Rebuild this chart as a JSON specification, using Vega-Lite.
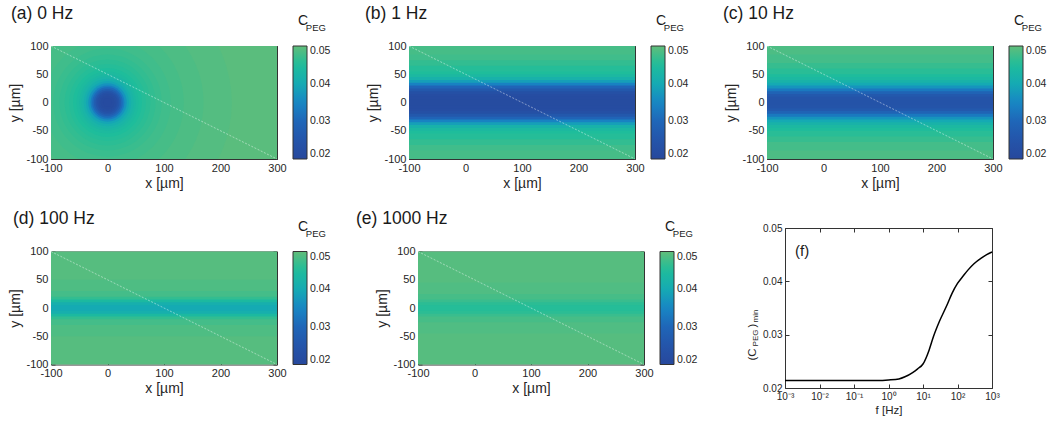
{
 "$schema": "https://vega.github.io/schema/vega-lite/v6.json",
 "padding": {"left": 8, "top": 4, "right": 0, "bottom": 0},
 "background": "white",
 "config": {
  "font": "Liberation Sans",
  "view": {"stroke": null},
  "title": {"anchor": "start", "frame": "group", "fontSize": 17.5, "fontWeight": "normal", "color": "#1a1a1a", "offset": -8},
  "axis": {"labelFontSize": 11, "labelColor": "#262626", "titleFontSize": 14, "titleFontWeight": "normal", "titleColor": "#262626", "domainColor": "#333333", "tickColor": "#333333", "tickSize": -4, "labelPadding": 7, "grid": false, "zindex": 1, "labelFlush": false, "labelOverlap": false, "titlePadding": 3, "labelExpr": "replace(datum.label, '−', '-')"},
  "legend": {"labelFontSize": 10.5, "labelColor": "#262626"}
 },
 "datasets": {
  "p0": [{"r":220,"c":0.049},{"r":170,"c":0.0485},{"r":135,"c":0.048},{"r":112,"c":0.0475},{"r":96,"c":0.047},{"r":85,"c":0.0465},{"r":76,"c":0.046},{"r":68,"c":0.0455},{"r":61,"c":0.045},{"r":55,"c":0.0443},{"r":50,"c":0.0435},{"r":46,"c":0.0425},{"r":42,"c":0.0412},{"r":38,"c":0.0395},{"r":34,"c":0.0368},{"r":30,"c":0.0335},{"r":27,"c":0.0305},{"r":24,"c":0.0275},{"r":21,"c":0.025},{"r":18,"c":0.0232},{"r":15,"c":0.0222},{"r":12,"c":0.0216},{"r":8,"c":0.0213}],
  "p1": [{"lo":-100,"hi":100,"c":0.048},{"lo":-85,"hi":85,"c":0.0475},{"lo":-75,"hi":75,"c":0.0465},{"lo":-65,"hi":65,"c":0.0455},{"lo":-55,"hi":55,"c":0.045},{"lo":-50,"hi":50,"c":0.0438},{"lo":-45,"hi":45,"c":0.0418},{"lo":-40,"hi":40,"c":0.0385},{"lo":-35,"hi":35,"c":0.0343},{"lo":-30,"hi":30,"c":0.0295},{"lo":-25,"hi":25,"c":0.0258},{"lo":-20,"hi":20,"c":0.0232},{"lo":-15,"hi":15,"c":0.0221},{"lo":-10,"hi":10,"c":0.0217},{"lo":-5,"hi":5,"c":0.0215}],
  "p10": [{"lo":-100,"hi":100,"c":0.0485},{"lo":-85,"hi":85,"c":0.0478},{"lo":-70,"hi":70,"c":0.0468},{"lo":-60,"hi":60,"c":0.0458},{"lo":-50,"hi":50,"c":0.0448},{"lo":-45,"hi":45,"c":0.0438},{"lo":-40,"hi":40,"c":0.0422},{"lo":-35,"hi":35,"c":0.04},{"lo":-30,"hi":30,"c":0.037},{"lo":-25,"hi":25,"c":0.033},{"lo":-20,"hi":20,"c":0.029},{"lo":-15,"hi":15,"c":0.0262},{"lo":-10,"hi":10,"c":0.0248},{"lo":-5,"hi":5,"c":0.0243}],
  "p100": [{"lo":-100,"hi":100,"c":0.0492},{"lo":-50,"hi":50,"c":0.0486},{"lo":-30,"hi":30,"c":0.0478},{"lo":-20,"hi":20,"c":0.0465},{"lo":-15,"hi":15,"c":0.044},{"lo":-10,"hi":10,"c":0.0412},{"lo":-5,"hi":5,"c":0.04}],
  "p1000": [{"lo":-100,"hi":100,"c":0.0492},{"lo":-45,"hi":45,"c":0.0487},{"lo":-25,"hi":25,"c":0.048},{"lo":-15,"hi":15,"c":0.047},{"lo":-10,"hi":10,"c":0.046},{"lo":-5,"hi":5,"c":0.0455}],
  "pf": [{"f":0.001,"c":0.0214},{"f":0.01,"c":0.0214},{"f":0.1,"c":0.0214},{"f":0.5,"c":0.0214},{"f":1,"c":0.0215},{"f":2,"c":0.0217},{"f":3,"c":0.0221},{"f":5,"c":0.0229},{"f":7,"c":0.0236},{"f":10,"c":0.0245},{"f":15,"c":0.0271},{"f":20,"c":0.0296},{"f":30,"c":0.0325},{"f":50,"c":0.0356},{"f":70,"c":0.0378},{"f":100,"c":0.0396},{"f":150,"c":0.0411},{"f":200,"c":0.0421},{"f":300,"c":0.0433},{"f":500,"c":0.0444},{"f":700,"c":0.045},{"f":1000,"c":0.0455}]
 },
 "spacing": 20,
 "resolve": {"scale": {"color": "independent"}, "legend": {"color": "independent"}},
 "vconcat": [
  {
   "hconcat": [
    {
     "title": {"text": "(a) 0 Hz", "dx": -40},
     "width": 226, "height": 113,
     "layer": [
      {"data": {"values": [{"c": 0.0495}]},
       "mark": {"type": "rect"},
       "encoding": {
        "x": {"datum": -100, "type": "quantitative", "scale": {"domain": [-100, 300], "nice": false, "zero": false}, "axis": {"orient": "bottom", "title": "x [µm]", "values": [-100, 0, 100, 200, 300]}},
        "x2": {"datum": 300},
        "y": {"datum": -100, "type": "quantitative", "scale": {"domain": [-100, 100], "nice": false, "zero": false}, "axis": {"orient": "left", "title": "y [µm]", "values": [-100, -50, 0, 50, 100]}},
        "y2": {"datum": 100},
        "color": {"field": "c", "type": "quantitative", "scale": {"domain": [0.02, 0.025, 0.03, 0.035, 0.04, 0.045, 0.05], "range": ["#27489c", "#2455aa", "#1f66b8", "#1786c4", "#15aab3", "#1ebd9b", "#61bd7a"], "interpolate": "rgb", "clamp": true}, "legend": {"orient": "none", "legendX": 242, "legendY": 0, "title": null, "direction": "vertical", "gradientLength": 113, "gradientThickness": 14, "values": [0.02, 0.03, 0.04, 0.05], "format": ".2f", "gradientStrokeColor": "#333333", "gradientStrokeWidth": 1, "labelOffset": 3}}
       }},
      {"data": {"name": "p0"},
       "mark": {"type": "point", "shape": "circle", "filled": true, "opacity": 1, "strokeWidth": 0, "clip": true},
       "encoding": {
        "x": {"datum": 0, "type": "quantitative", "axis": null},
        "y": {"datum": 0, "type": "quantitative", "axis": null},
        "size": {"field": "r", "type": "quantitative", "scale": {"type": "pow", "exponent": 2, "domain": [0, 200], "range": [0, 51076]}, "legend": null},
        "color": {"field": "c", "type": "quantitative"}
       }},
      {"data": {"values": [{}]},
       "mark": {"type": "rule", "color": "#ffffff", "strokeWidth": 0.8, "opacity": 0.55, "strokeDash": [2, 1.5]},
       "encoding": {
        "x": {"datum": -100, "type": "quantitative", "axis": {"orient": "top", "labels": false, "title": null, "values": [-100, 0, 100, 200, 300]}},
        "x2": {"datum": 300},
        "y": {"datum": 100, "type": "quantitative", "axis": {"orient": "right", "labels": false, "title": null, "values": [-100, -50, 0, 50, 100]}},
        "y2": {"datum": -100}
       }},
      {"data": {"values": [{}]},
       "mark": {"type": "text", "text": "C", "align": "left", "baseline": "alphabetic", "fontSize": 14, "color": "#1a1a1a"},
       "encoding": {"x": {"datum": 337, "type": "quantitative", "axis": null}, "y": {"datum": 137, "type": "quantitative", "axis": null}}},
      {"data": {"values": [{}]},
       "mark": {"type": "text", "text": "PEG", "align": "left", "baseline": "alphabetic", "fontSize": 9.5, "color": "#1a1a1a"},
       "encoding": {"x": {"datum": 351, "type": "quantitative", "axis": null}, "y": {"datum": 126, "type": "quantitative", "axis": null}}}
     ],
     "resolve": {"axis": {"x": "independent", "y": "independent"}}
    },
    {
     "title": {"text": "(b) 1 Hz", "dx": -44},
     "width": 226, "height": 113,
     "layer": [
      {"data": {"name": "p1"},
       "mark": {"type": "rect"},
       "encoding": {
        "x": {"datum": -100, "type": "quantitative", "scale": {"domain": [-100, 300], "nice": false, "zero": false}, "axis": {"orient": "bottom", "title": "x [µm]", "values": [-100, 0, 100, 200, 300]}},
        "x2": {"datum": 300},
        "y": {"field": "lo", "type": "quantitative", "scale": {"domain": [-100, 100], "nice": false, "zero": false}, "axis": {"orient": "left", "title": "y [µm]", "values": [-100, -50, 0, 50, 100]}},
        "y2": {"field": "hi"},
        "color": {"field": "c", "type": "quantitative", "scale": {"domain": [0.02, 0.025, 0.03, 0.035, 0.04, 0.045, 0.05], "range": ["#27489c", "#2455aa", "#1f66b8", "#1786c4", "#15aab3", "#1ebd9b", "#61bd7a"], "interpolate": "rgb", "clamp": true}, "legend": {"orient": "none", "legendX": 242, "legendY": 0, "title": null, "direction": "vertical", "gradientLength": 113, "gradientThickness": 14, "values": [0.02, 0.03, 0.04, 0.05], "format": ".2f", "gradientStrokeColor": "#333333", "gradientStrokeWidth": 1, "labelOffset": 3}}
       }},
      {"data": {"values": [{}]},
       "mark": {"type": "rule", "color": "#ffffff", "strokeWidth": 0.8, "opacity": 0.55, "strokeDash": [2, 1.5]},
       "encoding": {
        "x": {"datum": -100, "type": "quantitative", "axis": {"orient": "top", "labels": false, "title": null, "values": [-100, 0, 100, 200, 300]}},
        "x2": {"datum": 300},
        "y": {"datum": 100, "type": "quantitative", "axis": {"orient": "right", "labels": false, "title": null, "values": [-100, -50, 0, 50, 100]}},
        "y2": {"datum": -100}
       }},
      {"data": {"values": [{}]},
       "mark": {"type": "text", "text": "C", "align": "left", "baseline": "alphabetic", "fontSize": 14, "color": "#1a1a1a"},
       "encoding": {"x": {"datum": 337, "type": "quantitative", "axis": null}, "y": {"datum": 137, "type": "quantitative", "axis": null}}},
      {"data": {"values": [{}]},
       "mark": {"type": "text", "text": "PEG", "align": "left", "baseline": "alphabetic", "fontSize": 9.5, "color": "#1a1a1a"},
       "encoding": {"x": {"datum": 351, "type": "quantitative", "axis": null}, "y": {"datum": 126, "type": "quantitative", "axis": null}}}
     ],
     "resolve": {"axis": {"x": "independent", "y": "independent"}}
    },
    {
     "title": {"text": "(c) 10 Hz", "dx": -44},
     "width": 226, "height": 113,
     "layer": [
      {"data": {"name": "p10"},
       "mark": {"type": "rect"},
       "encoding": {
        "x": {"datum": -100, "type": "quantitative", "scale": {"domain": [-100, 300], "nice": false, "zero": false}, "axis": {"orient": "bottom", "title": "x [µm]", "values": [-100, 0, 100, 200, 300]}},
        "x2": {"datum": 300},
        "y": {"field": "lo", "type": "quantitative", "scale": {"domain": [-100, 100], "nice": false, "zero": false}, "axis": {"orient": "left", "title": "y [µm]", "values": [-100, -50, 0, 50, 100]}},
        "y2": {"field": "hi"},
        "color": {"field": "c", "type": "quantitative", "scale": {"domain": [0.02, 0.025, 0.03, 0.035, 0.04, 0.045, 0.05], "range": ["#27489c", "#2455aa", "#1f66b8", "#1786c4", "#15aab3", "#1ebd9b", "#61bd7a"], "interpolate": "rgb", "clamp": true}, "legend": {"orient": "none", "legendX": 242, "legendY": 0, "title": null, "direction": "vertical", "gradientLength": 113, "gradientThickness": 14, "values": [0.02, 0.03, 0.04, 0.05], "format": ".2f", "gradientStrokeColor": "#333333", "gradientStrokeWidth": 1, "labelOffset": 3}}
       }},
      {"data": {"values": [{}]},
       "mark": {"type": "rule", "color": "#ffffff", "strokeWidth": 0.8, "opacity": 0.55, "strokeDash": [2, 1.5]},
       "encoding": {
        "x": {"datum": -100, "type": "quantitative", "axis": {"orient": "top", "labels": false, "title": null, "values": [-100, 0, 100, 200, 300]}},
        "x2": {"datum": 300},
        "y": {"datum": 100, "type": "quantitative", "axis": {"orient": "right", "labels": false, "title": null, "values": [-100, -50, 0, 50, 100]}},
        "y2": {"datum": -100}
       }},
      {"data": {"values": [{}]},
       "mark": {"type": "text", "text": "C", "align": "left", "baseline": "alphabetic", "fontSize": 14, "color": "#1a1a1a"},
       "encoding": {"x": {"datum": 337, "type": "quantitative", "axis": null}, "y": {"datum": 137, "type": "quantitative", "axis": null}}},
      {"data": {"values": [{}]},
       "mark": {"type": "text", "text": "PEG", "align": "left", "baseline": "alphabetic", "fontSize": 9.5, "color": "#1a1a1a"},
       "encoding": {"x": {"datum": 351, "type": "quantitative", "axis": null}, "y": {"datum": 126, "type": "quantitative", "axis": null}}}
     ],
     "resolve": {"axis": {"x": "independent", "y": "independent"}}
    }
   ],
   "spacing": 132,
   "bounds": "flush",
   "resolve": {"scale": {"color": "independent"}, "legend": {"color": "independent"}}
  },
  {
   "hconcat": [
    {
     "title": {"text": "(d) 100 Hz", "dx": -38},
     "width": 226, "height": 113,
     "layer": [
      {"data": {"name": "p100"},
       "mark": {"type": "rect"},
       "encoding": {
        "x": {"datum": -100, "type": "quantitative", "scale": {"domain": [-100, 300], "nice": false, "zero": false}, "axis": {"orient": "bottom", "title": "x [µm]", "values": [-100, 0, 100, 200, 300]}},
        "x2": {"datum": 300},
        "y": {"field": "lo", "type": "quantitative", "scale": {"domain": [-100, 100], "nice": false, "zero": false}, "axis": {"orient": "left", "title": "y [µm]", "values": [-100, -50, 0, 50, 100]}},
        "y2": {"field": "hi"},
        "color": {"field": "c", "type": "quantitative", "scale": {"domain": [0.02, 0.025, 0.03, 0.035, 0.04, 0.045, 0.05], "range": ["#27489c", "#2455aa", "#1f66b8", "#1786c4", "#15aab3", "#1ebd9b", "#61bd7a"], "interpolate": "rgb", "clamp": true}, "legend": {"orient": "none", "legendX": 242, "legendY": 0, "title": null, "direction": "vertical", "gradientLength": 113, "gradientThickness": 14, "values": [0.02, 0.03, 0.04, 0.05], "format": ".2f", "gradientStrokeColor": "#333333", "gradientStrokeWidth": 1, "labelOffset": 3}}
       }},
      {"data": {"values": [{}]},
       "mark": {"type": "rule", "color": "#ffffff", "strokeWidth": 0.8, "opacity": 0.55, "strokeDash": [2, 1.5]},
       "encoding": {
        "x": {"datum": -100, "type": "quantitative", "axis": {"orient": "top", "labels": false, "title": null, "values": [-100, 0, 100, 200, 300]}},
        "x2": {"datum": 300},
        "y": {"datum": 100, "type": "quantitative", "axis": {"orient": "right", "labels": false, "title": null, "values": [-100, -50, 0, 50, 100]}},
        "y2": {"datum": -100}
       }},
      {"data": {"values": [{}]},
       "mark": {"type": "text", "text": "C", "align": "left", "baseline": "alphabetic", "fontSize": 14, "color": "#1a1a1a"},
       "encoding": {"x": {"datum": 337, "type": "quantitative", "axis": null}, "y": {"datum": 137, "type": "quantitative", "axis": null}}},
      {"data": {"values": [{}]},
       "mark": {"type": "text", "text": "PEG", "align": "left", "baseline": "alphabetic", "fontSize": 9.5, "color": "#1a1a1a"},
       "encoding": {"x": {"datum": 351, "type": "quantitative", "axis": null}, "y": {"datum": 126, "type": "quantitative", "axis": null}}}
     ],
     "resolve": {"axis": {"x": "independent", "y": "independent"}}
    },
    {
     "title": {"text": "(e) 1000 Hz", "dx": -62},
     "width": 226, "height": 113,
     "layer": [
      {"data": {"name": "p1000"},
       "mark": {"type": "rect"},
       "encoding": {
        "x": {"datum": -100, "type": "quantitative", "scale": {"domain": [-100, 300], "nice": false, "zero": false}, "axis": {"orient": "bottom", "title": "x [µm]", "values": [-100, 0, 100, 200, 300]}},
        "x2": {"datum": 300},
        "y": {"field": "lo", "type": "quantitative", "scale": {"domain": [-100, 100], "nice": false, "zero": false}, "axis": {"orient": "left", "title": "y [µm]", "values": [-100, -50, 0, 50, 100]}},
        "y2": {"field": "hi"},
        "color": {"field": "c", "type": "quantitative", "scale": {"domain": [0.02, 0.025, 0.03, 0.035, 0.04, 0.045, 0.05], "range": ["#27489c", "#2455aa", "#1f66b8", "#1786c4", "#15aab3", "#1ebd9b", "#61bd7a"], "interpolate": "rgb", "clamp": true}, "legend": {"orient": "none", "legendX": 242, "legendY": 0, "title": null, "direction": "vertical", "gradientLength": 113, "gradientThickness": 14, "values": [0.02, 0.03, 0.04, 0.05], "format": ".2f", "gradientStrokeColor": "#333333", "gradientStrokeWidth": 1, "labelOffset": 3}}
       }},
      {"data": {"values": [{}]},
       "mark": {"type": "rule", "color": "#ffffff", "strokeWidth": 0.8, "opacity": 0.55, "strokeDash": [2, 1.5]},
       "encoding": {
        "x": {"datum": -100, "type": "quantitative", "axis": {"orient": "top", "labels": false, "title": null, "values": [-100, 0, 100, 200, 300]}},
        "x2": {"datum": 300},
        "y": {"datum": 100, "type": "quantitative", "axis": {"orient": "right", "labels": false, "title": null, "values": [-100, -50, 0, 50, 100]}},
        "y2": {"datum": -100}
       }},
      {"data": {"values": [{}]},
       "mark": {"type": "text", "text": "C", "align": "left", "baseline": "alphabetic", "fontSize": 14, "color": "#1a1a1a"},
       "encoding": {"x": {"datum": 337, "type": "quantitative", "axis": null}, "y": {"datum": 137, "type": "quantitative", "axis": null}}},
      {"data": {"values": [{}]},
       "mark": {"type": "text", "text": "PEG", "align": "left", "baseline": "alphabetic", "fontSize": 9.5, "color": "#1a1a1a"},
       "encoding": {"x": {"datum": 351, "type": "quantitative", "axis": null}, "y": {"datum": 126, "type": "quantitative", "axis": null}}}
     ],
     "resolve": {"axis": {"x": "independent", "y": "independent"}}
    },
    {
     "width": 207, "height": 160,
     "layer": [
      {"data": {"name": "pf"},
       "mark": {"type": "line", "color": "#000000", "strokeWidth": 1.5, "interpolate": "monotone"},
       "encoding": {
        "x": {"field": "f", "type": "quantitative", "scale": {"type": "log", "domain": [0.001, 1000], "nice": false}, "axis": {"orient": "bottom", "title": "f [Hz]", "titleFontSize": 11.5, "labelFontSize": 10, "values": [0.001, 0.01, 0.1, 1, 10, 100, 1000], "labelExpr": "datum.value < 0.005 ? '10⁻³' : datum.value < 0.05 ? '10⁻²' : datum.value < 0.5 ? '10⁻¹' : datum.value < 5 ? '10⁰' : datum.value < 50 ? '10¹' : datum.value < 500 ? '10²' : '10³'"}},
        "y": {"field": "c", "type": "quantitative", "scale": {"domain": [0.02, 0.05], "nice": false, "zero": false}, "axis": {"orient": "left", "title": null, "labelFontSize": 10, "values": [0.02, 0.03, 0.04, 0.05], "format": ".2f"}}
       }},
      {"data": {"values": [{}]},
       "mark": {"type": "text", "text": "(f)", "align": "left", "baseline": "alphabetic", "fontSize": 15, "color": "#1a1a1a"},
       "encoding": {
        "x": {"datum": 0.00195, "type": "quantitative", "axis": {"orient": "top", "labels": false, "title": null, "values": [0.001, 0.01, 0.1, 1, 10, 100, 1000]}},
        "y": {"datum": 0.0448, "type": "quantitative", "axis": {"orient": "right", "labels": false, "title": null, "values": [0.02, 0.03, 0.04, 0.05]}}
       }},
      {"data": {"values": [{}]},
       "mark": {"type": "text", "text": "(C", "align": "center", "baseline": "middle", "angle": 270, "fontSize": 11.5, "color": "#262626"},
       "encoding": {"x": {"datum": 0.0001175, "type": "quantitative", "axis": null}, "y": {"datum": 0.02628, "type": "quantitative", "axis": null}}},
      {"data": {"values": [{}]},
       "mark": {"type": "text", "text": "PEG", "align": "center", "baseline": "middle", "angle": 270, "fontSize": 8, "color": "#262626"},
       "encoding": {"x": {"datum": 0.000149, "type": "quantitative", "axis": null}, "y": {"datum": 0.02938, "type": "quantitative", "axis": null}}},
      {"data": {"values": [{}]},
       "mark": {"type": "text", "text": ")", "align": "center", "baseline": "middle", "angle": 270, "fontSize": 11.5, "color": "#262626"},
       "encoding": {"x": {"datum": 0.0001175, "type": "quantitative", "axis": null}, "y": {"datum": 0.03172, "type": "quantitative", "axis": null}}},
      {"data": {"values": [{}]},
       "mark": {"type": "text", "text": "min", "align": "center", "baseline": "middle", "angle": 270, "fontSize": 8, "color": "#262626"},
       "encoding": {"x": {"datum": 0.000149, "type": "quantitative", "axis": null}, "y": {"datum": 0.0335, "type": "quantitative", "axis": null}}}
     ],
     "resolve": {"axis": {"x": "independent", "y": "independent"}}
    }
   ],
   "spacing": 141,
   "bounds": "flush",
   "center": true,
   "resolve": {"scale": {"color": "independent"}, "legend": {"color": "independent"}}
  }
 ]
}
